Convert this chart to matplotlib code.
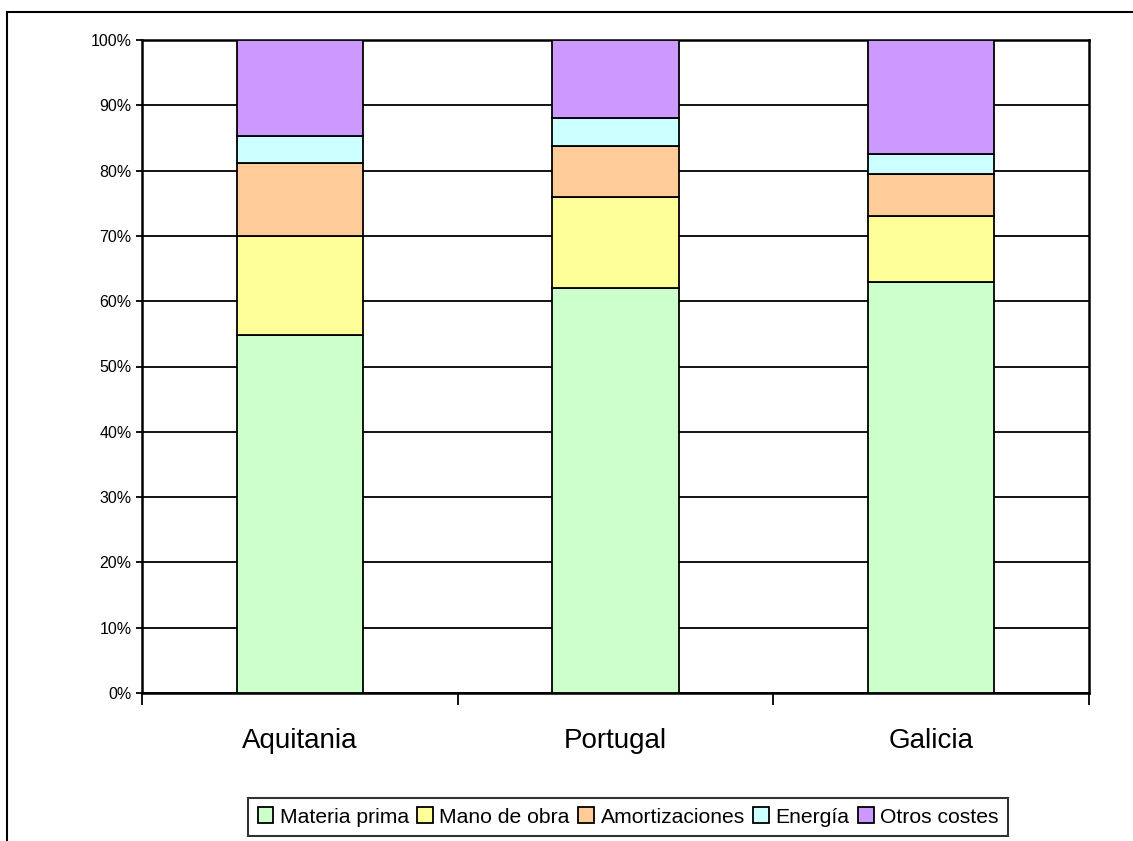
import numpy as np
import matplotlib
matplotlib.use('Agg')
import matplotlib.pyplot as plt
from matplotlib.patches import Rectangle
from matplotlib.ticker import FixedLocator, PercentFormatter

plt.rcParams['font.family'] = ['Liberation Sans', 'DejaVu Sans']

# Data (shares of total cost, %)
regions = ['Aquitania', 'Portugal', 'Galicia']
series = ['Materia prima', 'Mano de obra', 'Amortizaciones', 'Energía', 'Otros costes']
materia_prima = [54.8, 62.0, 62.9]
mano_de_obra = [15.2, 13.9, 10.2]
amortizaciones = [11.2, 7.9, 6.4]
energia = [4.1, 4.3, 3.1]
otros_costes = [14.7, 11.9, 17.4]
colors = ['#CCFFCC', '#FFFF99', '#FFCC99', '#CCFFFF', '#CC99FF']

values = np.array([materia_prima, mano_de_obra, amortizaciones, energia, otros_costes])
values = values / values.sum(axis=0) * 100

fig = plt.figure(figsize=(11.33, 8.41), dpi=100)
ax = fig.add_axes([142 / 1133, 1 - 693 / 841, 947 / 1133, 653 / 841])

x = np.arange(len(regions))
bottom = np.zeros(len(regions))
for name, vals, c in zip(series, values, colors):
    ax.bar(x, vals, 0.4, bottom=bottom, color=c, edgecolor='black',
           linewidth=1.3, label=name, zorder=3)
    bottom += vals

ax.set_xlim(-0.5, len(regions) - 0.5)
ax.set_ylim(0, 100)
ax.yaxis.set_major_locator(FixedLocator(np.arange(0, 101, 10)))
ax.yaxis.set_major_formatter(PercentFormatter(decimals=0))
ax.grid(axis='y', color='black', linewidth=1.3, zorder=0)
ax.tick_params(axis='y', direction='out', length=4.5, width=1.3, pad=3,
               labelsize=11.5)

# boundary ticks between categories, labels centered on bars
ax.set_xticks(np.arange(-0.5, len(regions)), labels=[''] * (len(regions) + 1))
ax.set_xticks(x, labels=regions, minor=True)
ax.tick_params(axis='x', which='major', direction='out', length=8.5, width=1.3)
ax.tick_params(axis='x', which='minor', length=0, pad=25, labelsize=20)

for s in ax.spines.values():
    s.set_linewidth(1.8)
    s.set_color('black')

leg = fig.legend(loc='center', bbox_to_anchor=(628 / 1133, 1 - 817 / 841),
                 ncol=5, fontsize=15.2, frameon=True, fancybox=False,
                 edgecolor='black', handlelength=0.75, handleheight=0.75,
                 handletextpad=0.3, columnspacing=0.4, borderpad=0.45,
                 borderaxespad=0)
leg.get_frame().set_linewidth(1.5)

# outer chart frame (runs off the right and bottom of the image)
fig.add_artist(Rectangle((7 / 1133, -0.1), 1.2, (841 - 12) / 841 + 0.1,
                         transform=fig.transFigure, fill=False,
                         edgecolor='black', linewidth=1.5))

fig.savefig('out.png', dpi=100)
